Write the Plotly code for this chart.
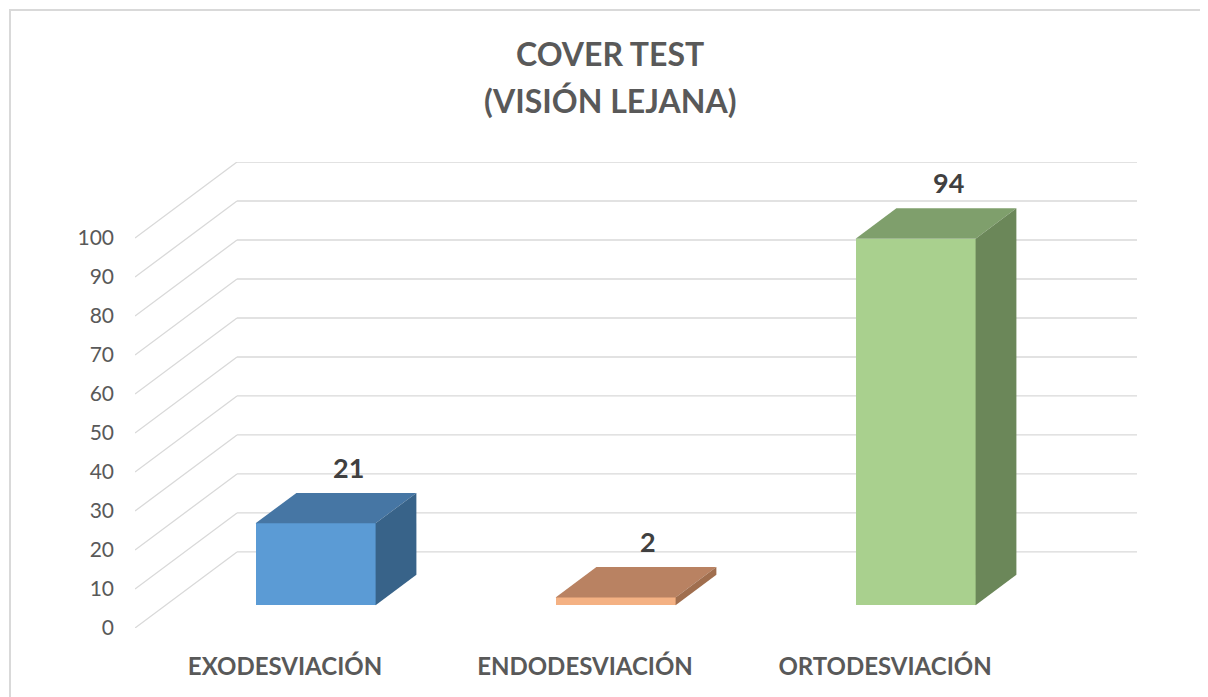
import plotly.graph_objects as go

# ---- data ----
categories = ["EXODESVIACIÓN", "ENDODESVIACIÓN", "ORTODESVIACIÓN"]
values = [21, 2, 94]
tick_values = [0, 10, 20, 30, 40, 50, 60, 70, 80, 90, 100]
title_line1 = "COVER TEST"
title_line2 = "(VISIÓN LEJANA)"

# ---- styling ----
front_colors = ["#5B9BD5", "#F4B183", "#A9D08E"]
top_colors = ["#4676A4", "#B98262", "#7F9F6C"]
side_colors = ["#386389", "#A06E4E", "#6B8759"]
grid_color = "#D9D9D9"
FONT = "Lato, 'Open Sans', sans-serif"

# page offset of the figure (body margin) and plot-area geometry in figure pixels
OFF = 8
L, R, T, B = 135 - OFF, 1208 - (1137 - OFF), 162 - OFF, 697 - (628 - OFF)
PW, PH = 1208 - L - R, 697 - T - B

# pseudo-3D projection parameters (in axis units)
DEPTH_X = 0.34      # x shift of full depth (category units)
DEPTH_Y = 19.5      # y shift of full depth (value units)
BAR_D0, BAR_D1 = 0.3, 0.7   # bar depth extent (fraction of full depth)
BAR_W = 0.4


def px_x(p):  # screen pixel -> paper x
    return (p - OFF - L) / PW


def px_y(p):  # screen pixel -> paper y
    return (697 - B - (p - OFF)) / PH


fig = go.Figure()

# gridlines: diagonal on floor side + back wall
shapes = []
for v in tick_values:
    shapes.append(dict(type="line", xref="x", yref="y", x0=0, y0=v,
                       x1=DEPTH_X, y1=v + DEPTH_Y,
                       line=dict(color=grid_color, width=1.3), layer="below"))
    shapes.append(dict(type="line", xref="x", yref="y", x0=DEPTH_X, y0=v + DEPTH_Y,
                       x1=3 + DEPTH_X, y1=v + DEPTH_Y,
                       line=dict(color=grid_color, width=1.3), layer="below"))
# outer border
shapes.append(dict(type="rect", xref="paper", yref="paper",
                   x0=px_x(10), x1=1.3, y0=-0.5, y1=px_y(10),
                   line=dict(color="#D9D9D9", width=2), layer="below"))

dx0, dy0 = BAR_D0 * DEPTH_X, BAR_D0 * DEPTH_Y
ddx, ddy = (BAR_D1 - BAR_D0) * DEPTH_X, (BAR_D1 - BAR_D0) * DEPTH_Y

centers = [i + 0.5 + dx0 for i in range(len(categories))]

# front faces
fig.add_trace(go.Bar(x=centers, y=values, base=[dy0] * len(values), width=BAR_W,
                     marker=dict(color=front_colors, line=dict(width=0)),
                     hoverinfo="skip", showlegend=False))

annotations = []
for i, v in enumerate(values):
    xl, xr = centers[i] - BAR_W / 2, centers[i] + BAR_W / 2
    yb, yt = dy0, dy0 + v
    # top face
    fig.add_trace(go.Scatter(
        x=[xl, xr, xr + ddx, xl + ddx, xl],
        y=[yt, yt, yt + ddy, yt + ddy, yt],
        fill="toself", fillcolor=top_colors[i], mode="lines",
        line=dict(width=0, color=top_colors[i]), hoverinfo="skip", showlegend=False))
    # side face
    fig.add_trace(go.Scatter(
        x=[xr, xr + ddx, xr + ddx, xr, xr],
        y=[yb, yb + ddy, yt + ddy, yt, yb],
        fill="toself", fillcolor=side_colors[i], mode="lines",
        line=dict(width=0, color=side_colors[i]), hoverinfo="skip", showlegend=False))
    # value label
    annotations.append(dict(x=centers[i] + ddx * 0.8, y=yt + ddy, xref="x", yref="y",
                            text=f"<b>{v}</b>", showarrow=False, yanchor="bottom",
                            yshift=7, font=dict(family=FONT, size=27, color="#404040")))

annotations.append(dict(x=px_x(610), y=px_y(54), xref="paper", yref="paper",
                        text=f"<b>{title_line1}</b>", showarrow=False, yanchor="middle",
                        font=dict(family=FONT, size=32, color="#595959")))
annotations.append(dict(x=px_x(610), y=px_y(101), xref="paper", yref="paper",
                        text=f"<b>{title_line2}</b>", showarrow=False, yanchor="middle",
                        font=dict(family=FONT, size=32, color="#595959")))

fig.update_layout(
    width=1208, height=697,
    margin=dict(l=L, r=R, t=T, b=B),
    paper_bgcolor="white", plot_bgcolor="white",
    shapes=shapes, annotations=annotations,
    bargap=0,
    xaxis=dict(range=[0, 3 + DEPTH_X], tickvals=[i + 0.5 for i in range(len(categories))],
               ticktext=[f"<b>{c}</b>" for c in categories],
               showgrid=False, zeroline=False, showline=False, ticks="",
               ticklabelstandoff=22,
               tickfont=dict(family=FONT, size=24, color="#595959")),
    yaxis=dict(range=[0, 100 + DEPTH_Y], tickvals=tick_values,
               showgrid=False, zeroline=False, showline=False, ticks="",
               ticklabelstandoff=20,
               tickfont=dict(family=FONT, size=21, color="#595959")),
)

fig.write_html("out.html")
